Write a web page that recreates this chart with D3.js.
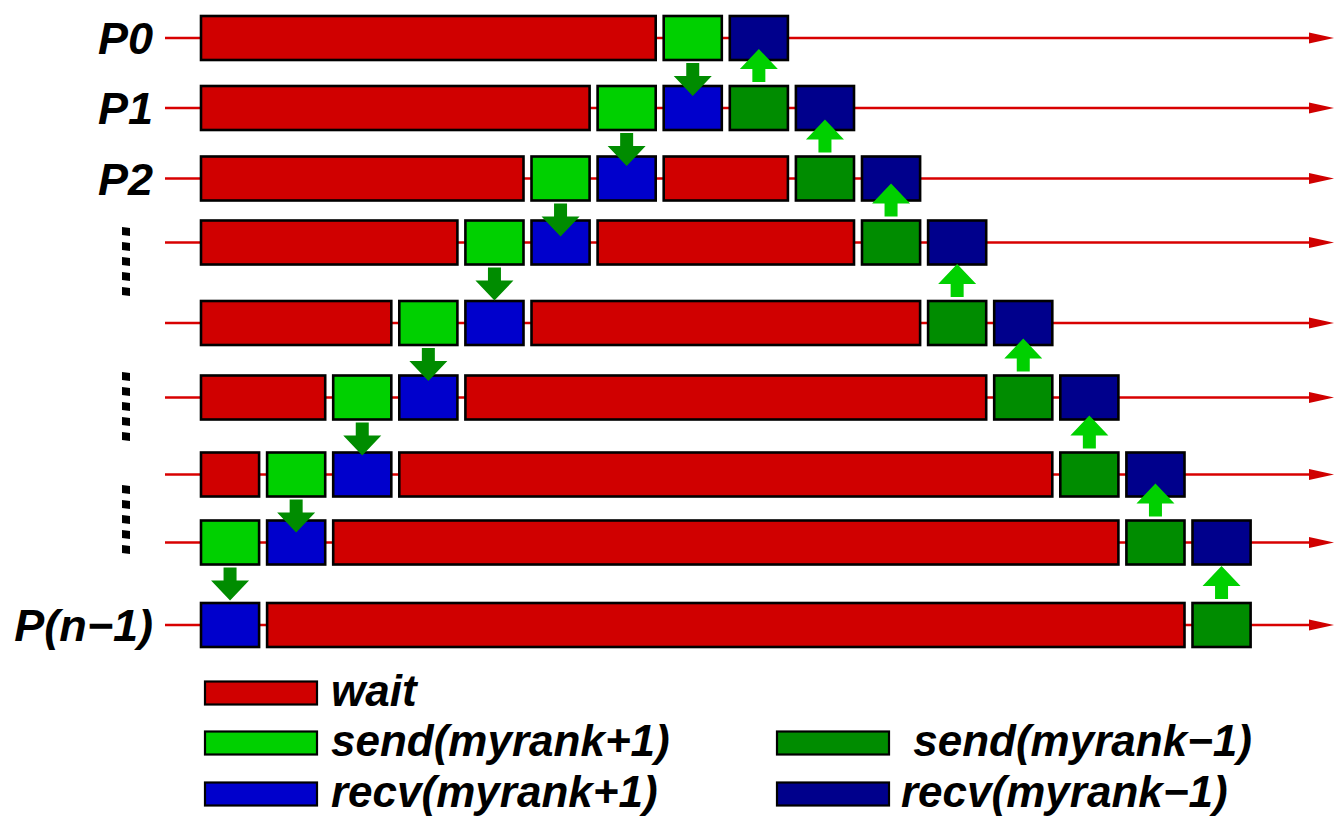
<!DOCTYPE html>
<html>
<head>
<meta charset="utf-8">
<script src="https://cdn.jsdelivr.net/npm/d3@7"></script>
<style>
  body { margin: 0; background: #fff; }
  text { font-family: "Liberation Sans", Arial, sans-serif; font-weight: bold; font-style: italic; white-space: pre; }
</style>
</head>
<body>
<svg width="1334" height="816"></svg>
<script>
// process labels (empty rows are the "..." ranks)
const rowLabels = ['P0', 'P1', 'P2', '', '', '', '', '', 'P(n\u22121)']
// each row: [state, first slot, number of slots]
const rowSegments = [
  [['wait', 0, 7], ['sendUp', 7, 1], ['recvDown', 8, 1]],
  [['wait', 0, 6], ['sendUp', 6, 1], ['recvUp', 7, 1], ['sendDown', 8, 1], ['recvDown', 9, 1]],
  [['wait', 0, 5], ['sendUp', 5, 1], ['recvUp', 6, 1], ['wait', 7, 2], ['sendDown', 9, 1], ['recvDown', 10, 1]],
  [['wait', 0, 4], ['sendUp', 4, 1], ['recvUp', 5, 1], ['wait', 6, 4], ['sendDown', 10, 1], ['recvDown', 11, 1]],
  [['wait', 0, 3], ['sendUp', 3, 1], ['recvUp', 4, 1], ['wait', 5, 6], ['sendDown', 11, 1], ['recvDown', 12, 1]],
  [['wait', 0, 2], ['sendUp', 2, 1], ['recvUp', 3, 1], ['wait', 4, 8], ['sendDown', 12, 1], ['recvDown', 13, 1]],
  [['wait', 0, 1], ['sendUp', 1, 1], ['recvUp', 2, 1], ['wait', 3, 10], ['sendDown', 13, 1], ['recvDown', 14, 1]],
  [['sendUp', 0, 1], ['recvUp', 1, 1], ['wait', 2, 12], ['sendDown', 14, 1], ['recvDown', 15, 1]],
  [['recvUp', 0, 1], ['wait', 1, 14], ['sendDown', 15, 1]]
]
const states = ['wait', 'sendUp', 'recvUp', 'sendDown', 'recvDown']
const stateColors = ['#d00000', '#00d000', '#0000cc', '#008c00', '#00008c']
const legendLabels = ['wait', 'send(myrank+1)', 'recv(myrank+1)', ' send(myrank\u22121)', 'recv(myrank\u22121)']
const legendCol = [0, 0, 0, 1, 1]
const legendRow = [0, 1, 2, 1, 2]

const color = d3.scaleOrdinal().domain(states).range(stateColors)
const xs = d3.scaleLinear().domain([0, 16]).range([201, 201 + 66.1 * 16])
const ys = d3.scaleOrdinal().domain(d3.range(9)).range([38, 108, 178.5, 242.5, 323, 397.5, 474.5, 542.5, 625])
const gap = 8
const boxH = 44

const svg = d3.select('svg')

// time lines with arrow heads
const lines = svg.append('g').attr('id', 'lines')
lines.selectAll('line').data(rowLabels).enter().append('line')
  .attr('x1', 165).attr('x2', 1312)
  .attr('y1', function(d, i) { return ys(i) })
  .attr('y2', function(d, i) { return ys(i) })
  .attr('stroke', '#d80000').attr('stroke-width', 2.6)
lines.selectAll('path').data(rowLabels).enter().append('path')
  .attr('d', function(d, i) { const y = ys(i); return 'M1309,' + (y - 5.5) + 'L1334,' + y + 'L1309,' + (y + 5.5) + 'Z' })
  .attr('fill', '#d00000')

// row labels
svg.append('g').selectAll('text').data(rowLabels).enter().append('text')
  .attr('x', 153)
  .attr('y', function(d, i) { return ys(i) + 16 })
  .attr('text-anchor', 'end')
  .attr('font-size', 45)
  .text(function(d) { return d })

// vertical ellipsis for the skipped ranks
const ellipsisTops = [227, 372, 485]
const dots = []
ellipsisTops.forEach(function(t) { d3.range(5).forEach(function(k) { dots.push(t + k * 15) }) })
svg.append('g').selectAll('path').data(dots).enter().append('path')
  .attr('d', function(y) { return 'M122,' + y + 'L130,' + (y + 1) + 'L130,' + (y + 9) + 'L122,' + (y + 8) + 'Z' })
  .attr('fill', '#000')

// boxes
const boxes = []
rowSegments.forEach(function(segs, r) {
  segs.forEach(function(s) { boxes.push({row: r, state: s[0], start: s[1], len: s[2]}) })
})
svg.append('g').attr('id', 'chart').selectAll('rect').data(boxes).enter().append('rect')
  .attr('x', function(d) { return xs(d.start) })
  .attr('y', function(d) { return ys(d.row) - boxH / 2 })
  .attr('width', function(d) { return xs(d.start + d.len) - xs(d.start) - gap })
  .attr('height', boxH)
  .attr('fill', function(d) { return color(d.state) })
  .attr('stroke', '#000').attr('stroke-width', 2.6)

// message arrows: send(myrank+1) goes down, send(myrank-1) goes up
const arrows = []
boxes.forEach(function(b) {
  if (b.state === 'sendUp' && b.row < rowLabels.length - 1) arrows.push({dir: 1, row: b.row, slot: b.start})
  if (b.state === 'sendDown' && b.row > 0) arrows.push({dir: -1, row: b.row, slot: b.start})
})
function arrowPath(d) {
  const cx = xs(d.slot) + (xs(1) - xs(0) - gap) / 2
  const sw = 6.5, hw = 19, shaft = 13, len = 33
  if (d.dir === 1) {
    const y0 = ys(d.row) + boxH / 2 + 3
    return 'M' + (cx - sw) + ',' + y0 + 'L' + (cx + sw) + ',' + y0 + 'L' + (cx + sw) + ',' + (y0 + shaft) +
      'L' + (cx + hw) + ',' + (y0 + shaft) + 'L' + cx + ',' + (y0 + len) + 'L' + (cx - hw) + ',' + (y0 + shaft) +
      'L' + (cx - sw) + ',' + (y0 + shaft) + 'Z'
  }
  const y1 = ys(d.row) - boxH / 2 - 4
  return 'M' + (cx - sw) + ',' + y1 + 'L' + (cx + sw) + ',' + y1 + 'L' + (cx + sw) + ',' + (y1 - shaft) +
    'L' + (cx + hw) + ',' + (y1 - shaft) + 'L' + cx + ',' + (y1 - len) + 'L' + (cx - hw) + ',' + (y1 - shaft) +
    'L' + (cx - sw) + ',' + (y1 - shaft) + 'Z'
}
svg.append('g').attr('id', 'arrows').selectAll('path').data(arrows).enter().append('path')
  .attr('d', arrowPath)
  .attr('fill', function(d) { return d.dir === 1 ? '#008c00' : '#00d000' })

// legend
const legX = [205, 777]
const legY = [693, 743, 794]
const legend = svg.append('g').attr('id', 'legend').selectAll('g').data(states).enter().append('g')
  .attr('transform', function(d, i) { return 'translate(' + legX[legendCol[i]] + ',' + legY[legendRow[i]] + ')' })
legend.append('rect')
  .attr('x', 0).attr('y', -11.5).attr('width', 112).attr('height', 23)
  .attr('fill', function(d) { return color(d) })
  .attr('stroke', '#000').attr('stroke-width', 2.2)
legend.append('text')
  .attr('x', function(d, i) { return legendCol[i] === 0 ? 126 : 124 })
  .attr('y', 13)
  .attr('font-size', 44)
  .text(function(d, i) { return legendLabels[i] })
</script>
</body>
</html>
